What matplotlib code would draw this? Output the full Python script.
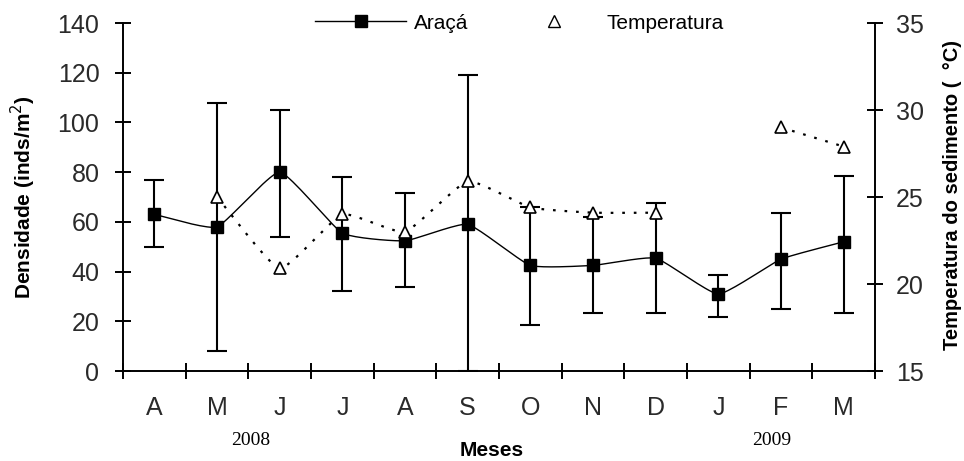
import numpy as np
import matplotlib
matplotlib.use("Agg")
import matplotlib.pyplot as plt
from matplotlib.lines import Line2D

plt.rcParams["font.family"] = ["Liberation Sans", "DejaVu Sans"]

months = ["A", "M", "J", "J", "A", "S", "O", "N", "D", "J", "F", "M"]
aracá = [63, 58, 80, 55.5, 52.4, 59, 42.5, 42.5, 45.4, 31, 45, 52]
aracá_low = [50, 8, 54, 32, 34, 0, 18.5, 23.3, 23.3, 21.7, 25, 23.3]
aracá_high = [77, 108, 105, 78, 71.6, 119, 66, 62, 67.6, 38.6, 63.5, 78.6]
temperatura = [None, 25.0, 20.9, 24.0, 23.0, 25.9, 24.4, 24.1, 24.1, None, 29.0, 27.9]


def smooth(x, y, n=20, tension=0.55):
    # cardinal spline through the points, like a spreadsheet "smoothed line"
    x = np.asarray(x, float)
    y = np.asarray(y, float)
    if len(x) < 3:
        return x, y
    px = np.concatenate([[2 * x[0] - x[1]], x, [2 * x[-1] - x[-2]]])
    py = np.concatenate([[2 * y[0] - y[1]], y, [2 * y[-1] - y[-2]]])
    t = np.linspace(0, 1, n)
    h00 = 2 * t**3 - 3 * t**2 + 1
    h10 = t**3 - 2 * t**2 + t
    h01 = -2 * t**3 + 3 * t**2
    h11 = t**3 - t**2
    xs, ys = [], []
    for i in range(1, len(px) - 2):
        for p, out in ((px, xs), (py, ys)):
            m1 = (1 - tension) * (p[i + 1] - p[i - 1]) / 2
            m2 = (1 - tension) * (p[i + 2] - p[i]) / 2
            out.extend(h00 * p[i] + h10 * m1 + h01 * p[i + 1] + h11 * m2)
    return np.array(xs), np.array(ys)


x = np.arange(len(months))
fig = plt.figure(figsize=(9.64, 4.61), dpi=100)
ax = fig.add_axes([0.1276, 0.1952, 0.7801, 0.7548])
ax2 = ax.twinx()

# density line + error bars
sx, sy = smooth(x, aracá)
ax.plot(sx, sy, "-", color="black", lw=1.0, zorder=3)
err = [np.array(aracá) - np.array(aracá_low), np.array(aracá_high) - np.array(aracá)]
ax.errorbar(x, aracá, yerr=err, fmt="none", ecolor="black", elinewidth=1.5,
            capsize=7, capthick=1.5, zorder=3)
ax.plot(x, aracá, "s", color="black", ms=9, zorder=4)

# temperature, split where a month is missing
dots = (0, (1.2, 4))
seg = []
for xi, t in list(zip(x, temperatura)) + [(None, None)]:
    if t is None:
        if seg:
            sx, sy = smooth(*zip(*seg))
            ax2.plot(sx, sy, linestyle=dots, color="black", lw=1.6)
        seg = []
    else:
        seg.append((xi, t))
tx = [xi for xi, t in zip(x, temperatura) if t is not None]
ty = [t for t in temperatura if t is not None]
ax2.plot(tx, ty, "^", mfc="white", mec="black", ms=9, mew=1.2, zorder=5)

ax.set_xlim(-0.5, len(months) - 0.5)
ax.set_ylim(0, 140)
ax2.set_ylim(15, 35)
ax.set_yticks(range(0, 141, 20))
ax2.set_yticks(range(15, 36, 5))
ax.set_xticks(np.arange(-0.5, len(months), 1))
ax.set_xticklabels([])
ax.set_xticks(x, minor=True)
ax.set_xticklabels(months, minor=True)

for a in (ax, ax2):
    a.spines["top"].set_visible(False)
    for s in a.spines.values():
        s.set_linewidth(1.4)
ax.spines["right"].set_visible(False)
ax2.spines["left"].set_visible(False)
ax2.spines["bottom"].set_visible(False)

ax.tick_params(axis="y", direction="inout", length=12, width=1.4, labelsize=18, pad=11)
ax.tick_params(axis="x", which="major", direction="inout", length=12, width=1.4)
ax.tick_params(axis="x", which="minor", length=0, labelsize=18, pad=18)
ax2.tick_params(axis="y", direction="inout", length=12, width=1.4, labelsize=18, pad=9)
for lab in ax.get_yticklabels() + ax2.get_yticklabels() + ax.get_xticklabels(minor=True):
    lab.set_color("#2a2a2a")

fig.text(0.024, 0.573, "Densidade (inds/m$^2$)", rotation=90, ha="center", va="center",
         fontsize=15, fontweight="bold")
fig.text(0.988, 0.577, "Temperatura do sedimento (  °C)", rotation=90, ha="center", va="center",
         fontsize=14.5, fontweight="bold")

fig.text(0.51, 0.022, "Meses", ha="center", va="center", fontsize=15, fontweight="bold")
fig.text(0.260, 0.045, "2008", ha="center", va="center", fontsize=14,
         family=["Liberation Serif", "DejaVu Serif"])
fig.text(0.801, 0.045, "2009", ha="center", va="center", fontsize=14,
         family=["Liberation Serif", "DejaVu Serif"])

handles = [
    Line2D([], [], color="black", marker="s", ms=8, lw=1.0),
    Line2D([], [], color="none", marker="^", mfc="white", mec="black", ms=8),
]
ax.legend(handles, ["Araçá", "Temperatura"], loc="center", bbox_to_anchor=(0.527, 1.0),
          ncol=2, frameon=False, fontsize=15, handlelength=4.4, handletextpad=0.35,
          columnspacing=1.9, borderpad=0)

fig.savefig("out.png", dpi=100)
